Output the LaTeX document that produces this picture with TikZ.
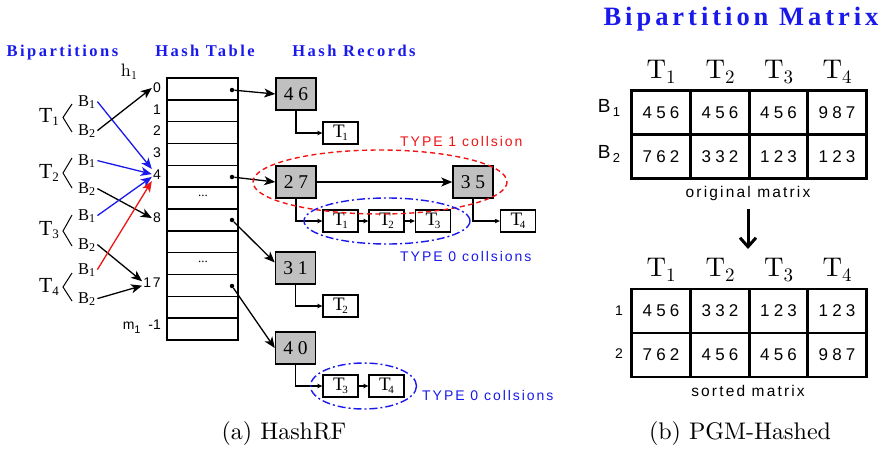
\documentclass[tikz,border=0pt]{standalone}
\usepackage{fontspec}
\usetikzlibrary{arrows.meta}
\newfontfamily\hv{Liberation Sans}
\newfontfamily\hvsp{Liberation Sans}[LetterSpace=14]
\newfontfamily\hvnum{Liberation Sans}[LetterSpace=24]
\newfontfamily\tm{Liberation Serif}
\newfontfamily\tmsp{Liberation Serif}[LetterSpace=24]
\newfontfamily\tmtitle{Liberation Serif}[LetterSpace=15]
\newfontfamily\lmten{lmroman10-regular}[Extension=.otf]
\definecolor{tblue}{RGB}{25,25,235}
\definecolor{tred}{RGB}{240,20,20}
\definecolor{rgray}{RGB}{192,192,192}
\newcommand\fs[1]{\fontsize{#1}{#1}\selectfont}
\newcommand\lsub[3]{\raisebox{-#1pt}{\fs{#2}#3}}
\tikzset{
  tbl/.style={draw, line width=1.4pt, minimum width=71pt, minimum height=21.83pt, inner sep=0pt, outer sep=0pt},
  rowlbl/.style={font=\hvsp\fs{14}, inner sep=1pt, anchor=east},
  dotn/.style={circle, fill, inner sep=0pt, minimum size=4.5pt},
  rec/.style={draw, line width=1.5pt, fill=rgray, minimum width=40pt, minimum height=32pt, inner sep=0pt, font=\tmsp\fs{19.5}},
  tbox/.style={draw, line width=1.3pt, fill=white, minimum width=35pt, minimum height=22pt, inner sep=0pt, font=\tm\fs{19}},
  big/.style={line width=1.3pt, -{Stealth[length=11pt,width=9pt,inset=3pt]}},
  smallarr/.style={line width=1.1pt, -{Stealth[length=5pt,width=4.5pt,inset=1pt]}},
  cell/.style={draw, line width=2.5pt, minimum width=58.75pt, minimum height=44pt, inner sep=0pt, font=\hvnum\fs{17}},
  hdr/.style={font=\lmten\fs{27}, inner sep=0pt, anchor=base},
  ttl/.style={font=\tmtitle\bfseries\fs{16.5}, text=tblue, inner sep=0pt, anchor=base},
  tlbl/.style={font=\tm\fs{21.5}, inner sep=0pt, anchor=base},
  blbl/.style={font=\tm\fs{16.5}, inner sep=2pt, anchor=base west},
  brk/.style={line width=1pt},
  typelbl/.style={font=\hvsp\fs{14}, inner sep=0pt, anchor=base west},
  captxt/.style={font=\lmten\fs{24}, inner sep=0pt, anchor=base},
}
\newcommand\Ts[1]{T\kern-2.5pt\lsub{3.5}{11}{#1}}
\begin{document}
\begin{tikzpicture}[x=1pt,y=-1pt]
\useasboundingbox (0,0) rectangle (886,448);
% titles
\node[ttl] (tbip) at (62.5,56) {Bipartitions};
\node[ttl] (ttab) at (205,56) {Hash Table};
\node[ttl] (trec) at (354,56) {Hash Records};
\node[ttl, font=\tmtitle\bfseries\fs{26.5}] (tmat) at (741,25) {Bipartition Matrix};
% hash table rows
\foreach \i in {0,...,11} {
  \node[tbl] (r\i) at (202.5,{88.92+21.83*\i}) {};
}
\node[inner sep=0pt, anchor=base, font=\tm\fs{13}] (dd1) at (203,196) {...};
\node[inner sep=0pt, anchor=base, font=\tm\fs{13}] (dd2) at (203,262) {...};
% row labels
\node[font=\lmten\fs{18}, inner sep=0pt, anchor=base] (h1) at (129,76) {h\lsub{3}{12}{1}};
\node[rowlbl] (l0) at (162,88) {0};
\node[rowlbl] (l1) at (162,110) {1};
\node[rowlbl] (l2) at (162,131) {2};
\node[rowlbl] (l3) at (162,153) {3};
\node[rowlbl] (l4) at (162,175) {4};
\node[rowlbl] (l8) at (162,218) {8};
\node[rowlbl] (l17) at (162,283) {17};
\node[rowlbl, font=\hv\fs{14}] (lm) at (162,327) {m\lsub{4}{11}{1}\ \ -1};
% dots in table
\node[dotn] (d0) at (232,90) {};
\node[dotn] (d4) at (232,177) {};
\node[dotn] (d6) at (232,220) {};
\node[dotn] (d9) at (232,286) {};
% hash records
\node[rec] (k46) at (296,94) {46};
\node[rec] (k27) at (296,182) {27};
\node[rec] (k35) at (473,182) {35};
\node[rec] (k31) at (295.5,268) {31};
\node[rec] (k40) at (295.5,348) {40};
\node[tbox] (ta1) at (340.5,133) {\Ts{1}};
\node[tbox] (tb1) at (340.5,221) {\Ts{1}};
\node[tbox] (tb2) at (386.5,221) {\Ts{2}};
\node[tbox] (tb3) at (433,221) {\Ts{3}};
\node[tbox] (tb4) at (518,221) {\Ts{4}};
\node[tbox] (tc2) at (340.5,306) {\Ts{2}};
\node[tbox] (td3) at (340.5,386) {\Ts{3}};
\node[tbox] (td4) at (386.5,386) {\Ts{4}};
% record connectors
\draw[smallarr] (k46.south) |- (ta1.west);
\draw[smallarr] (k27.south) |- (tb1.west);
\draw[smallarr] (tb1) -- (tb2);
\draw[smallarr] (tb2) -- (tb3);
\draw[smallarr] (k35.south) |- (tb4.west);
\draw[smallarr] (k31.south) |- (tc2.west);
\draw[smallarr] (k40.south) |- (td3.west);
\draw[smallarr] (td3) -- (td4);
\draw[big] (d0) -- (k46.west);
\draw[big] (d4) -- (k27.west);
\draw[big] (k27) -- (k35);
\draw[big] (d6) -- (k31.165);
\draw[big] (d9) -- (k40.west);
% collision ellipses
\draw[tred, dashed, dash pattern=on 5pt off 3.5pt, line width=1.4pt] (380,182) ellipse [x radius=127, y radius=32];
\draw[tblue, line width=1.4pt, dash pattern=on 8pt off 3pt on 2pt off 3pt] (387,221) ellipse [x radius=83, y radius=23];
\draw[tblue, line width=1.4pt, dash pattern=on 8pt off 3pt on 2pt off 3pt] (363.5,386) ellipse [x radius=53, y radius=23];
\node[typelbl, text=tred] (ty1) at (400,146) {TYPE 1 collsion};
\node[typelbl, text=tblue] (ty0a) at (400,261) {TYPE 0 collsions};
\node[typelbl, text=tblue] (ty0b) at (422,400) {TYPE 0 collsions};
% bipartitions
\node[tlbl] (T1) at (49,122) {T\lsub{3}{13}{1}};
\node[tlbl] (T2) at (49,178) {T\lsub{3}{13}{2}};
\node[tlbl] (T3) at (49,235) {T\lsub{3}{13}{3}};
\node[tlbl] (T4) at (49,292) {T\lsub{3}{13}{4}};
\draw[brk] (72,104) -- (63,117.5) -- (72,132);
\draw[brk] (72,158) -- (63,173) -- (72,188);
\draw[brk] (72,215) -- (63,231) -- (72,246);
\draw[brk] (72,273) -- (63,287) -- (72,301);
\node[blbl] (b11) at (76,106) {B\lsub{2}{12}{1}};
\node[blbl] (b12) at (76,135) {B\lsub{2}{12}{2}};
\node[blbl] (b21) at (76,165) {B\lsub{2}{12}{1}};
\node[blbl] (b22) at (76,193) {B\lsub{2}{12}{2}};
\node[blbl] (b31) at (76,220) {B\lsub{2}{12}{1}};
\node[blbl] (b32) at (76,249) {B\lsub{2}{12}{2}};
\node[blbl] (b41) at (76,274) {B\lsub{2}{12}{1}};
\node[blbl] (b42) at (76,303) {B\lsub{2}{12}{2}};
\draw[big, tblue] (b11.east) -- (l4.north west);
\draw[big] (b12.east) -- (l0.west);
\draw[big, tblue] (b21.east) -- (l4.170);
\draw[big] (b22.east) -- (l8.west);
\draw[big, tblue] (b31.east) -- (l4.200);
\draw[big] (b32.east) -- (l17.170);
\draw[big, tred] (b41.east) -- (l4.south west);
\draw[big] (b42.east) -- (l17.195);
% matrices
\foreach \c/\x in {1/661,2/720,3/778.5,4/837} {
  \node[hdr] (h\c) at (\x,78) {T\lsub{5}{19}{\c}};
  \node[hdr] (g\c) at (\x,276) {T\lsub{5}{19}{\c}};
}
\foreach \c/\x/\u/\v in {1/661/456/762,2/720/456/332,3/778.5/456/123,4/837/987/123} {
  \node[cell] (m1a\c) at (\x,112.5) {\u};
  \node[cell] (m1b\c) at (\x,156.5) {\v};
}
\foreach \c/\x/\u/\v in {1/661/456/762,2/720/332/456,3/778.5/123/456,4/837/123/987} {
  \node[cell] (m2a\c) at (\x,311) {\u};
  \node[cell] (m2b\c) at (\x,355) {\v};
}
\node[font=\hv\fs{19}, inner sep=0pt, anchor=base] (rb1) at (609,112) {B\lsub{4}{13}{\,1}};
\node[font=\hv\fs{19}, inner sep=0pt, anchor=base] (rb2) at (609,158) {B\lsub{4}{13}{\,2}};
\node[font=\hv\fs{14}, inner sep=0pt, anchor=base] (rn1) at (619,315) {1};
\node[font=\hv\fs{14}, inner sep=0pt, anchor=base] (rn2) at (619,358) {2};
\node[font=\hvsp\fs{15.5}, inner sep=0pt, anchor=base] (orig) at (748,197) {original matrix};
\node[font=\hvsp\fs{15.5}, inner sep=0pt, anchor=base] (sorted) at (748,396) {sorted matrix};
\coordinate (aend) at (748,249);
\draw[line width=3pt, -{Straight Barb[length=9pt,width=16pt,line width=3pt]}, shorten <=9pt] (orig.south) -- (aend);
% captions
\node[captxt] (capa) at (284,439) {(a) HashRF};
\node[captxt] (capb) at (740,439) {(b) PGM-Hashed};
\end{tikzpicture}
\end{document}
